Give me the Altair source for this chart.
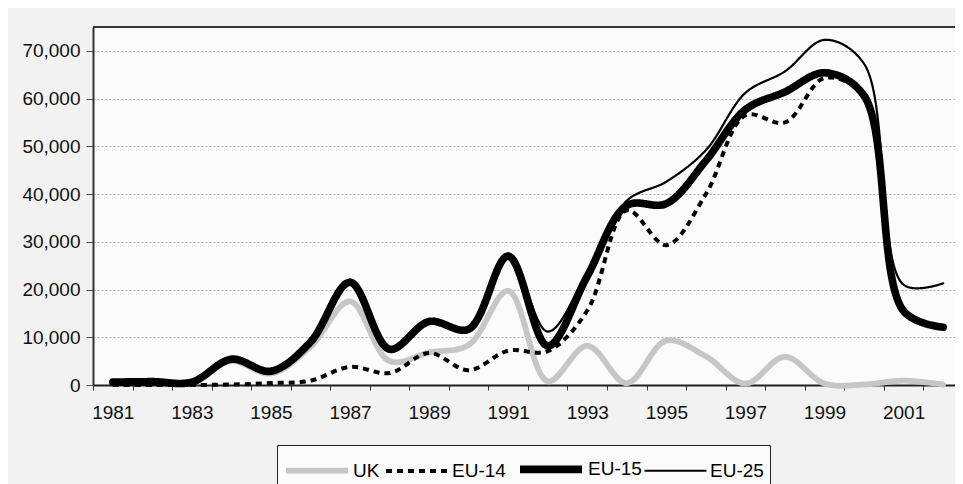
import altair as alt
import pandas as pd

years = list(range(1981, 2003))
uk    = [600, 700, 600, 5000, 2400, 8000, 17500, 5000, 6800, 8400, 19700, 800,
         8200, 400, 9300, 6000, 300, 5900, 300, 100, 900, 100]
eu14  = [0, 0, 0, 100, 400, 900, 3800, 2500, 6700, 3100, 7200, 7100,
         15600, 36600, 29300, 40000, 56500, 55000, 64300, 60500, 15500, 12000]
eu15  = [600, 700, 600, 5400, 2900, 9000, 21500, 7500, 13300, 11700, 27000, 8200,
         22800, 37600, 38000, 47000, 57700, 61400, 65400, 60600, 15500, 12100]
eu25  = [700, 800, 700, 5500, 3000, 9100, 21600, 7700, 13400, 11900, 27300, 11200,
         23600, 38600, 42600, 49200, 61200, 65700, 72300, 67300, 21000, 21300]

series_names = ["UK", "EU-14", "EU-15", "EU-25"]          # legend / drawing order
series_vals = [uk, eu14, eu15, eu25]
scale_order = ["EU-25", "EU-14", "UK", "EU-15"]           # thin -> thick
y_ticks = [0, 10000, 20000, 30000, 40000, 50000, 60000, 70000]

rows = []
for name, vals in zip(series_names, series_vals):
    for yr, v in zip(years, vals):
        rows.append({"year": yr, "value": v, "series": name})
df = pd.DataFrame(rows)

W, H = 862, 358
FONT = "Liberation Sans"

legend = alt.Legend(
    title=None, orient="none", direction="horizontal",
    legendX=184, legendY=418, values=series_names,
    symbolType="M-1,0H3.43", symbolSize=784,
    labelFontSize=19, labelFont=FONT, labelColor="black",
    labelOffset=36, columnPadding=-2, padding=6,
    strokeColor="#222", fillColor="#fbfbfb",
)

color = alt.Color("series:N", scale=alt.Scale(domain=scale_order,
                  range=["black", "black", "#c6c6c6", "black"]), legend=legend)
dash = alt.StrokeDash("series:N", scale=alt.Scale(domain=scale_order,
                      range=[[1, 0], [6, 5], [1, 0], [1, 0]]), legend=legend)
width = alt.StrokeWidth("series:N", scale=alt.Scale(type="point", domain=scale_order,
                        range=[2.2, 7.6], padding=0), legend=legend)

x = alt.X("year:Q", scale=alt.Scale(domain=[1980.5, 2002.3], nice=False, zero=False),
          axis=alt.Axis(values=years, format="d", title=None,
                        labelExpr="datum.value % 2 == 1 ? datum.label : ''",
                        tickOffset=-19.8, labelOffset=19.8, tickSize=5,
                        labelPadding=13, labelFontSize=19, labelFont=FONT,
                        labelColor="#111", domainColor="#222", domainWidth=2,
                        tickColor="#333", grid=False, labelFlush=False))
y = alt.Y("value:Q", scale=alt.Scale(domain=[0, 75000], nice=False),
          axis=alt.Axis(values=y_ticks, format=",d", title=None, tickSize=7,
                        labelPadding=6, labelFontSize=19, labelFont=FONT,
                        labelColor="#111", domainColor="#333", domainWidth=2,
                        tickColor="#555", grid=True, gridColor="#a8a8a8",
                        gridDash=[2, 2], gridWidth=1))

base = alt.Chart(df).encode(x=x, y=y, color=color, strokeDash=dash, strokeWidth=width)

layers = []
for name in series_names:
    cap = "butt" if name == "EU-14" else "round"
    layers.append(base.transform_filter(alt.datum.series == name)
                  .mark_line(interpolate="catmull-rom", strokeCap=cap, strokeJoin="round"))

top_line = alt.Chart(df).mark_rule(color="#333", strokeWidth=2).encode(
    x=alt.value(0), x2=alt.value(W), y=alt.value(0))

chart = alt.layer(*layers, top_line).properties(
    width=W, height=H, background="#f2f2f2",
    autosize=alt.AutoSizeParams(type="none"),
    padding={"left": 85, "top": 19, "right": 0, "bottom": 99},
).configure_view(stroke=None, fill="#fbfbfb")

chart.save("out.html", embed_options={"renderer": "svg", "actions": False})
